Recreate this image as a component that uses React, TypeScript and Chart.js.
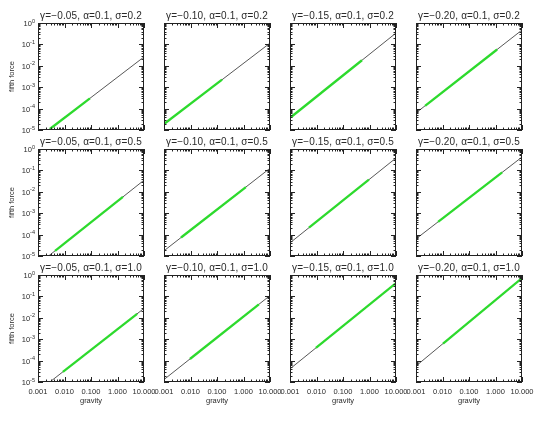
import React, { useEffect, useRef } from "react";
import { Chart, registerables } from "chart.js";

Chart.register(...registerables);

// ---------- data ----------
const gammaLabels = ["-0.05", "-0.10", "-0.15", "-0.20"];
const sigmaLabels = ["0.2", "0.5", "1.0"];
const alphaLabel = "0.1";

const xTickValues = [0.001, 0.01, 0.1, 1, 10];
const xTickLabels = ["0.001", "0.010", "0.100", "1.000", "10.000"];
const yTickValues = [1, 1e-1, 1e-2, 1e-3, 1e-4, 1e-5];
const yTickExponents = ["0", "-1", "-2", "-3", "-4", "-5"];

// panels in row-major order (rows: sigma, columns: gamma)
const lineStartX = [0.0025, 0.001, 0.001, 0.001, 0.0025, 0.001, 0.001, 0.001, 0.0028, 0.001, 0.001, 0.001];
const lineStartY = [1e-5, 1.9e-5, 3.7e-5, 6.3e-5, 1e-5, 1.75e-5, 4.1e-5, 6.3e-5, 1e-5, 1.3e-5, 4.1e-5, 5.6e-5];
const lineEndX = [10, 10, 10, 10, 10, 10, 10, 10, 10, 10, 10, 10];
const lineEndY = [0.026, 0.115, 0.34, 0.47, 0.035, 0.126, 0.38, 0.42, 0.0275, 0.11, 0.42, 0.72];

const greenStartX = [0.0028, 0.001, 0.0011, 0.0022, 0.0044, 0.0044, 0.0052, 0.0068, 0.0087, 0.0095, 0.0095, 0.0105];
const greenStartY = [1.11e-5, 1.9e-5, 4.06e-5, 1.35e-4, 1.74e-5, 7.3e-5, 2.1e-4, 3.94e-4, 3.0e-5, 1.19e-4, 3.92e-4, 6.27e-4];
const greenEndX = [0.091, 0.155, 0.52, 1.15, 1.6, 1.23, 0.95, 1.78, 5.5, 3.8, 10, 10];
const greenEndY = [3.02e-4, 2.24e-3, 0.0182, 0.0578, 5.77e-3, 0.0167, 0.0369, 0.0805, 0.0154, 0.0426, 0.42, 0.72];

// ---------- layout ----------
const PLOT_LEFTS = [38, 164, 290, 416];
const PLOT_TOPS = [23, 149, 275];
const PLOT_W = 106;
const PLOT_H = 107;
const PAD_L = 38;
const PAD_T = 24;
const PAD_R = 40;
const PAD_B = 30;

const FONT = "'Liberation Sans', Arial, Helvetica, sans-serif";

function Panel({ row, col }: { row: number; col: number }) {
  const ref = useRef<HTMLCanvasElement | null>(null);
  const idx = row * 4 + col;
  const W = PLOT_W + PAD_L + PAD_R;
  const H = PLOT_H + PAD_T + PAD_B;
  const left = PLOT_LEFTS[col] - PAD_L;
  const top = PLOT_TOPS[row] - PAD_T;

  useEffect(() => {
    if (!ref.current) return;
    const decor = {
      id: "idlDecor",
      afterDraw(chart: any) {
        const ctx = chart.ctx as CanvasRenderingContext2D;
        const a = chart.chartArea;
        const xs = chart.scales.x;
        const ys = chart.scales.y;
        ctx.save();
        // frame
        ctx.strokeStyle = "#222";
        ctx.lineWidth = 1;
        ctx.strokeRect(Math.round(a.left) + 0.5, Math.round(a.top) + 0.5, Math.round(a.right - a.left) - 1, Math.round(a.bottom - a.top) - 1);
        // ticks
        ctx.beginPath();
        for (let d = -3; d <= 1; d++) {
          for (let k = 1; k <= 9; k++) {
            const v = k * Math.pow(10, d);
            if (v > 10.0001) break;
            const px = Math.round(xs.getPixelForValue(v)) + 0.5;
            const len = k === 1 ? 5 : 2.5;
            ctx.moveTo(px, a.bottom);
            ctx.lineTo(px, a.bottom - len);
            ctx.moveTo(px, a.top);
            ctx.lineTo(px, a.top + len);
          }
        }
        for (let d = -5; d <= 0; d++) {
          for (let k = 1; k <= 9; k++) {
            const v = k * Math.pow(10, d);
            if (v > 1.0001) break;
            const py = Math.round(ys.getPixelForValue(v)) + 0.5;
            const len = k === 1 ? 5 : 2.5;
            ctx.moveTo(a.left, py);
            ctx.lineTo(a.left + len, py);
            ctx.moveTo(a.right, py);
            ctx.lineTo(a.right - len, py);
          }
        }
        ctx.stroke();

        ctx.fillStyle = "#2a2a2a";
        // title
        ctx.font = `10px ${FONT}`;
        (ctx as any).letterSpacing = "0.15px";
        ctx.textAlign = "center";
        ctx.textBaseline = "middle";
        const title = `\u03b3=\u2212${gammaLabels[col].slice(1)}, \u03b1=${alphaLabel}, \u03c3=${sigmaLabels[row]}`;
        ctx.fillText(title, (a.left + a.right) / 2, a.top - 7);
        (ctx as any).letterSpacing = "0px";

        // y tick labels
        if (col === 0) {
          yTickValues.forEach((v, i) => {
            const py = ys.getPixelForValue(v);
            ctx.font = `7.5px ${FONT}`;
            const w10 = ctx.measureText("10").width;
            ctx.font = `5.5px ${FONT}`;
            const wE = ctx.measureText(yTickExponents[i]).width;
            const x0 = a.left - 3 - w10 - wE;
            ctx.textAlign = "left";
            ctx.textBaseline = "alphabetic";
            ctx.font = `7.5px ${FONT}`;
            ctx.fillText("10", x0, py + 3);
            ctx.font = `5.5px ${FONT}`;
            ctx.fillText(yTickExponents[i], x0 + w10, py - 0.5);
          });
          ctx.save();
          ctx.translate(12, (a.top + a.bottom) / 2);
          ctx.rotate(-Math.PI / 2);
          ctx.font = `7.5px ${FONT}`;
          ctx.textAlign = "center";
          ctx.textBaseline = "middle";
          ctx.fillText("fifth force", 0, 0);
          ctx.restore();
        }
        // x tick labels
        if (row === 2) {
          ctx.font = `7.5px ${FONT}`;
          ctx.textAlign = "center";
          ctx.textBaseline = "middle";
          xTickValues.forEach((v, i) => {
            ctx.fillText(xTickLabels[i], xs.getPixelForValue(v), a.bottom + 10);
          });
          ctx.fillText("gravity", (a.left + a.right) / 2, a.bottom + 19);
        }
        ctx.restore();
      },
    };

    const chart = new Chart(ref.current, {
      type: "scatter",
      data: {
        datasets: [
          {
            data: [
              { x: greenStartX[idx], y: greenStartY[idx] },
              { x: greenEndX[idx], y: greenEndY[idx] },
            ],
            showLine: true,
            borderColor: "rgb(45,218,45)",
            borderWidth: 2.3,
            pointRadius: 0,
            order: 0,
          },
          {
            data: [
              { x: lineStartX[idx], y: lineStartY[idx] },
              { x: lineEndX[idx], y: lineEndY[idx] },
            ],
            showLine: true,
            borderColor: "#444",
            borderWidth: 0.9,
            pointRadius: 0,
            order: 1,
          },
        ],
      },
      options: {
        animation: false,
        responsive: false,
        devicePixelRatio: 1,
        layout: { padding: { left: PAD_L, top: PAD_T, right: PAD_R, bottom: PAD_B } },
        plugins: { legend: { display: false }, tooltip: { enabled: false }, title: { display: false } },
        scales: {
          x: { type: "logarithmic", min: 0.001, max: 10, display: false },
          y: { type: "logarithmic", min: 1e-5, max: 1, display: false },
        },
      },
      plugins: [decor],
    });
    return () => chart.destroy();
  }, [idx]);

  return (
    <canvas
      ref={ref}
      width={W}
      height={H}
      style={{ position: "absolute", left, top, width: W, height: H }}
    />
  );
}

export default function App() {
  const panels: React.ReactNode[] = [];
  for (let r = 0; r < 3; r++) {
    for (let c = 0; c < 4; c++) {
      panels.push(<Panel key={`${r}-${c}`} row={r} col={c} />);
    }
  }
  return (
    <div style={{ position: "absolute", left: 0, top: 0, width: 540, height: 421, background: "#fff", overflow: "hidden" }}>
      {panels}
    </div>
  );
}
